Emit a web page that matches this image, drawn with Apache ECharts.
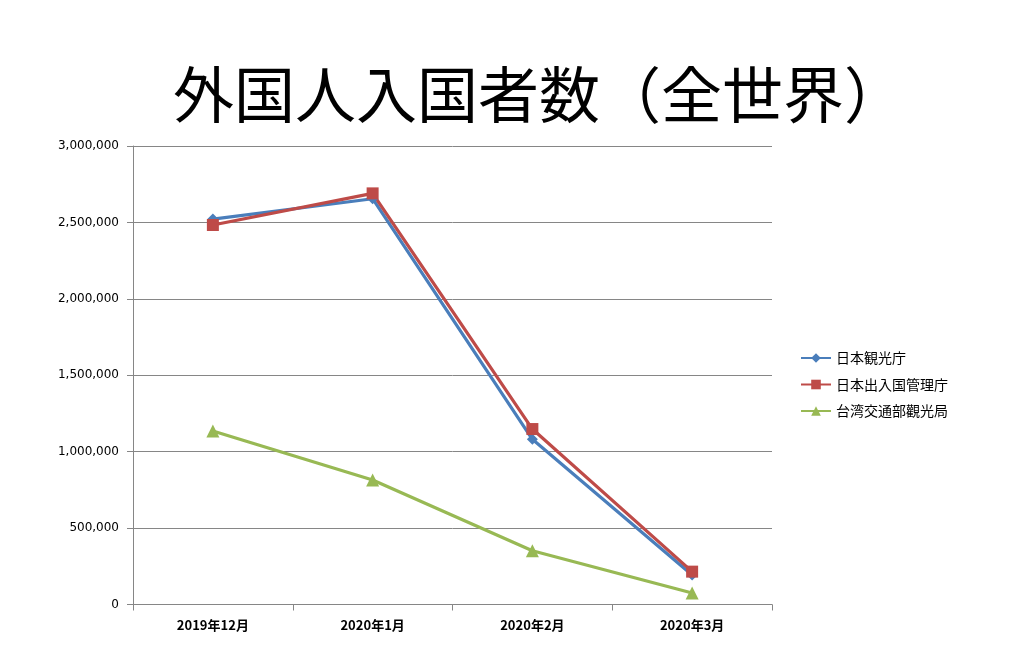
<!DOCTYPE html>
<html><head><meta charset="utf-8">
<script src="https://cdn.jsdelivr.net/npm/echarts@6/dist/echarts.min.js"></script>
<style>html,body{margin:0;padding:0;background:#fff}#c{width:1031px;height:669px}</style>
</head><body><div id="c"></div>
<script>
const categories = ['2019年12月', '2020年1月', '2020年2月', '2020年3月'];
const jnto = [2522000, 2655000, 1081000, 193000];
const immigration = [2483000, 2690000, 1148000, 215000];
const taiwan = [1135000, 815000, 352000, 75000];
const seriesNames = ['日本観光庁', '日本出入国管理庁', '台湾交通部觀光局'];

const chart = echarts.init(document.getElementById('c'));
const gray = '#868686';
chart.setOption({
  backgroundColor: '#fff',
  animation: false,
  title: {
    text: '外国人入国者数（全世界）',
    left: 534, top: 59, textAlign: 'center',
    textStyle: { fontFamily: 'Noto Sans CJK JP', fontWeight: 'normal', fontSize: 61, color: '#000' }
  },
  legend: {
    orient: 'vertical', left: 795, top: 346, itemGap: 12.5,
    itemWidth: 30, itemHeight: 12,
    textStyle: { fontFamily: 'Noto Sans CJK JP', fontSize: 14, color: '#000' },
    data: seriesNames
  },
  grid: { left: 133, right: 259, top: 146, bottom: 64.5, containLabel: false },
  xAxis: {
    type: 'category', data: categories, boundaryGap: true,
    axisLine: { lineStyle: { color: gray, width: 1 } },
    axisTick: { show: true, length: 6, lineStyle: { color: gray } },
    axisLabel: { margin: 14, color: '#000', fontWeight: 'bold', fontSize: 13, fontFamily: 'Liberation Sans Narrow, Noto Sans CJK JP' }
  },
  yAxis: {
    type: 'value', min: 0, max: 3000000, interval: 500000,
    axisLine: { show: true, lineStyle: { color: gray, width: 1 } },
    axisTick: { show: true, inside: false, length: 6, lineStyle: { color: gray } },
    splitLine: { lineStyle: { color: gray, width: 1 } },
    axisLabel: {
      margin: 14, color: '#000', fontSize: 12, fontFamily: 'DejaVu Sans',
      formatter: v => v.toLocaleString('en-US')
    }
  },
  series: [
    { name: seriesNames[0], type: 'line', data: jnto, symbol: 'diamond', symbolSize: 11,
      itemStyle: { color: '#4A7EBB' }, lineStyle: { width: 3.2, color: '#4A7EBB' } },
    { name: seriesNames[1], type: 'line', data: immigration, symbol: 'rect', symbolSize: 12,
      itemStyle: { color: '#BE4B48' }, lineStyle: { width: 3.2, color: '#BE4B48' } },
    { name: seriesNames[2], type: 'line', data: taiwan, symbol: 'triangle', symbolSize: 13,
      itemStyle: { color: '#98B954' }, lineStyle: { width: 3.2, color: '#98B954' } }
  ]
});
</script></body></html>
